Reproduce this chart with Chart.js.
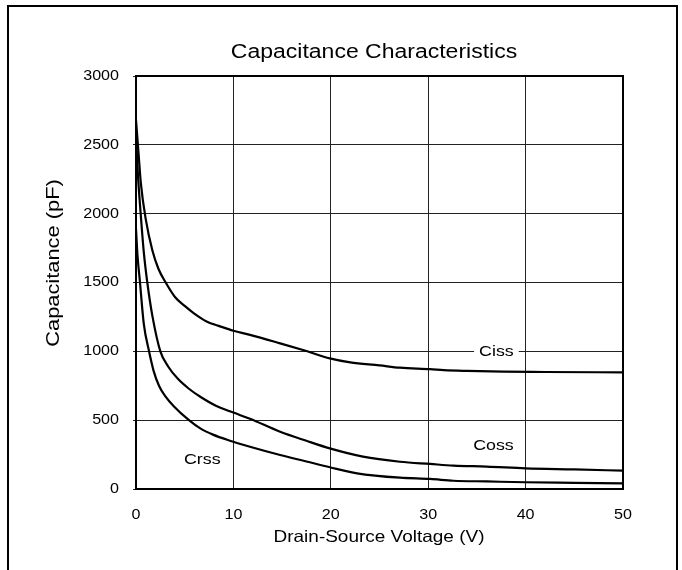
<!DOCTYPE html>
<html><head><meta charset="utf-8">
<script src="https://cdn.jsdelivr.net/npm/chart.js@4"></script>
<style>
html,body{margin:0;padding:0;background:#fff;}
#wrap{position:relative;width:682px;height:570px;overflow:hidden;}
#frame{position:absolute;left:7px;top:5px;width:671px;height:600px;border:2px solid #000;box-sizing:border-box;pointer-events:none;}
canvas{position:absolute;left:0;top:0;}
</style></head>
<body>
<div id="wrap"><canvas id="c" width="682" height="570"></canvas><div id="frame"></div></div>
<script>
const cissV = [0, 0.25, 0.5, 1.0, 1.67, 2.3, 3.05, 4.0, 5.0, 5.95, 7.3, 8.5, 10, 11.7, 14.8, 17.5, 19.9, 22, 25, 27.1, 30.2, 31.6, 34, 37.7, 42, 50];
const cissC = [2680, 2450, 2220, 1960, 1736, 1600, 1500, 1395, 1330, 1276, 1215, 1185, 1150, 1120, 1058, 1002, 949, 920, 898, 881, 871, 864, 858, 852, 850, 847];
const cossV = [0, 0.2, 0.48, 0.8, 1.16, 1.7, 2.5, 3.3, 4.3, 5.4, 6.6, 8.2, 10, 11.7, 14.8, 17.5, 19.9, 23.3, 27.1, 30.2, 32.6, 36, 40, 45, 50];
const cossC = [2560, 2280, 2000, 1720, 1500, 1250, 1000, 890, 800, 730, 670, 605, 555, 510, 416, 350, 295, 235, 198, 182, 170, 163, 150, 142, 133];
const crssV = [0, 0.15, 0.41, 0.8, 1.34, 1.8, 2.36, 3.0, 3.9, 5.44, 6.6, 7.9, 9.65, 11.7, 14.8, 17.5, 19.9, 22.7, 27.1, 30.2, 32.6, 36, 40, 45, 50];
const crssC = [1890, 1700, 1500, 1200, 1000, 860, 750, 675, 600, 500, 440, 395, 351, 307, 247, 200, 158, 114, 82, 73, 60, 55, 49, 45, 41];
const xTicks = [0, 10, 20, 30, 40, 50];
const yTicks = [0, 500, 1000, 1500, 2000, 2500, 3000];
const chartTitle = 'Capacitance Characteristics';
const xTitle = 'Drain-Source Voltage (V)';
const yTitle = 'Capacitance (pF)';
const seriesLabels = [
  {text: 'Ciss', x: 37.0, y: 1000, bg: true},
  {text: 'Coss', x: 36.7, y: 315, bg: false},
  {text: 'Crss', x: 6.8, y: 210, bg: false}
];
const pts = (xs, ys) => xs.map((x, i) => ({x: x, y: ys[i]}));
const FONT = '"Liberation Sans", Arial, sans-serif';
const SX = 1.15; // horizontal text stretch seen in the reference

const canvas = document.getElementById('c');
const ctx0 = canvas.getContext('2d');
const origFill = ctx0.fillText.bind(ctx0);
ctx0.fillText = function(text, x, y) {
  ctx0.save();
  ctx0.translate(x, y);
  ctx0.scale(SX, 1);
  origFill(text, 0, 0);
  ctx0.restore();
};

const textPlugin = {
  id: 'texts',
  afterDatasetsDraw(chart) {
    const {ctx, scales, chartArea: a} = chart;
    ctx.save();
    ctx.fillStyle = '#000';
    ctx.textAlign = 'center';
    ctx.textBaseline = 'middle';
    ctx.font = '15.5px ' + FONT;
    seriesLabels.forEach(l => {
      const px = scales.x.getPixelForValue(l.x);
      const py = scales.y.getPixelForValue(l.y);
      const w = ctx.measureText(l.text).width * SX;
      if (l.bg) { ctx.fillStyle = '#fff'; ctx.fillRect(px - w/2 - 5, py - 6, w + 10, 12); }
      ctx.fillStyle = '#000';
      ctx.fillText(l.text, px, py);
    });
    ctx.strokeStyle = '#000';
    ctx.lineWidth = 2;
    ctx.strokeRect(a.left, a.top, a.right - a.left, a.bottom - a.top);
    ctx.font = '20px ' + FONT;
    ctx.fillText(chartTitle, 374, 52);
    ctx.font = '16.5px ' + FONT;
    ctx.fillText(xTitle, 379, 537);
    ctx.save();
    ctx.translate(54, 263);
    ctx.rotate(-Math.PI / 2);
    ctx.font = '19px ' + FONT;
    ctx.fillText(yTitle, 0, 0);
    ctx.restore();
    ctx.restore();
  }
};

const ds = (label, data) => ({label, data, borderColor: '#000', borderWidth: 2.2, pointRadius: 0, showLine: true, fill: false, cubicInterpolationMode: 'monotone'});

new Chart(canvas, {
  type: 'scatter',
  data: { datasets: [ds('Ciss', pts(cissV, cissC)), ds('Coss', pts(cossV, cossC)), ds('Crss', pts(crssV, crssC))] },
  options: {
    responsive: false, animation: false, devicePixelRatio: 1,
    layout: { padding: { left: 0, right: 59, top: 76, bottom: 0 } },
    plugins: { legend: { display: false }, tooltip: { enabled: false }, title: { display: false } },
    scales: {
      x: {
        type: 'linear', min: 0, max: 50,
        afterBuildTicks: s => { s.ticks = xTicks.map(v => ({value: v})); },
        afterFit: s => { s.height = 81; },
        grid: { color: '#222', lineWidth: 1, drawTicks: false },
        border: { display: false },
        ticks: { color: '#000', font: { family: FONT, size: 14 }, padding: 18, maxRotation: 0, callback: v => String(v) }
      },
      y: {
        type: 'linear', min: 0, max: 3000,
        afterBuildTicks: s => { s.ticks = yTicks.map(v => ({value: v})); },
        afterFit: s => { s.width = 136; },
        grid: { color: '#222', lineWidth: 1, tickLength: 3 },
        border: { display: false },
        ticks: { color: '#000', font: { family: FONT, size: 14 }, padding: 14, callback: v => String(v) }
      }
    }
  },
  plugins: [textPlugin]
});
</script>
</body></html>
